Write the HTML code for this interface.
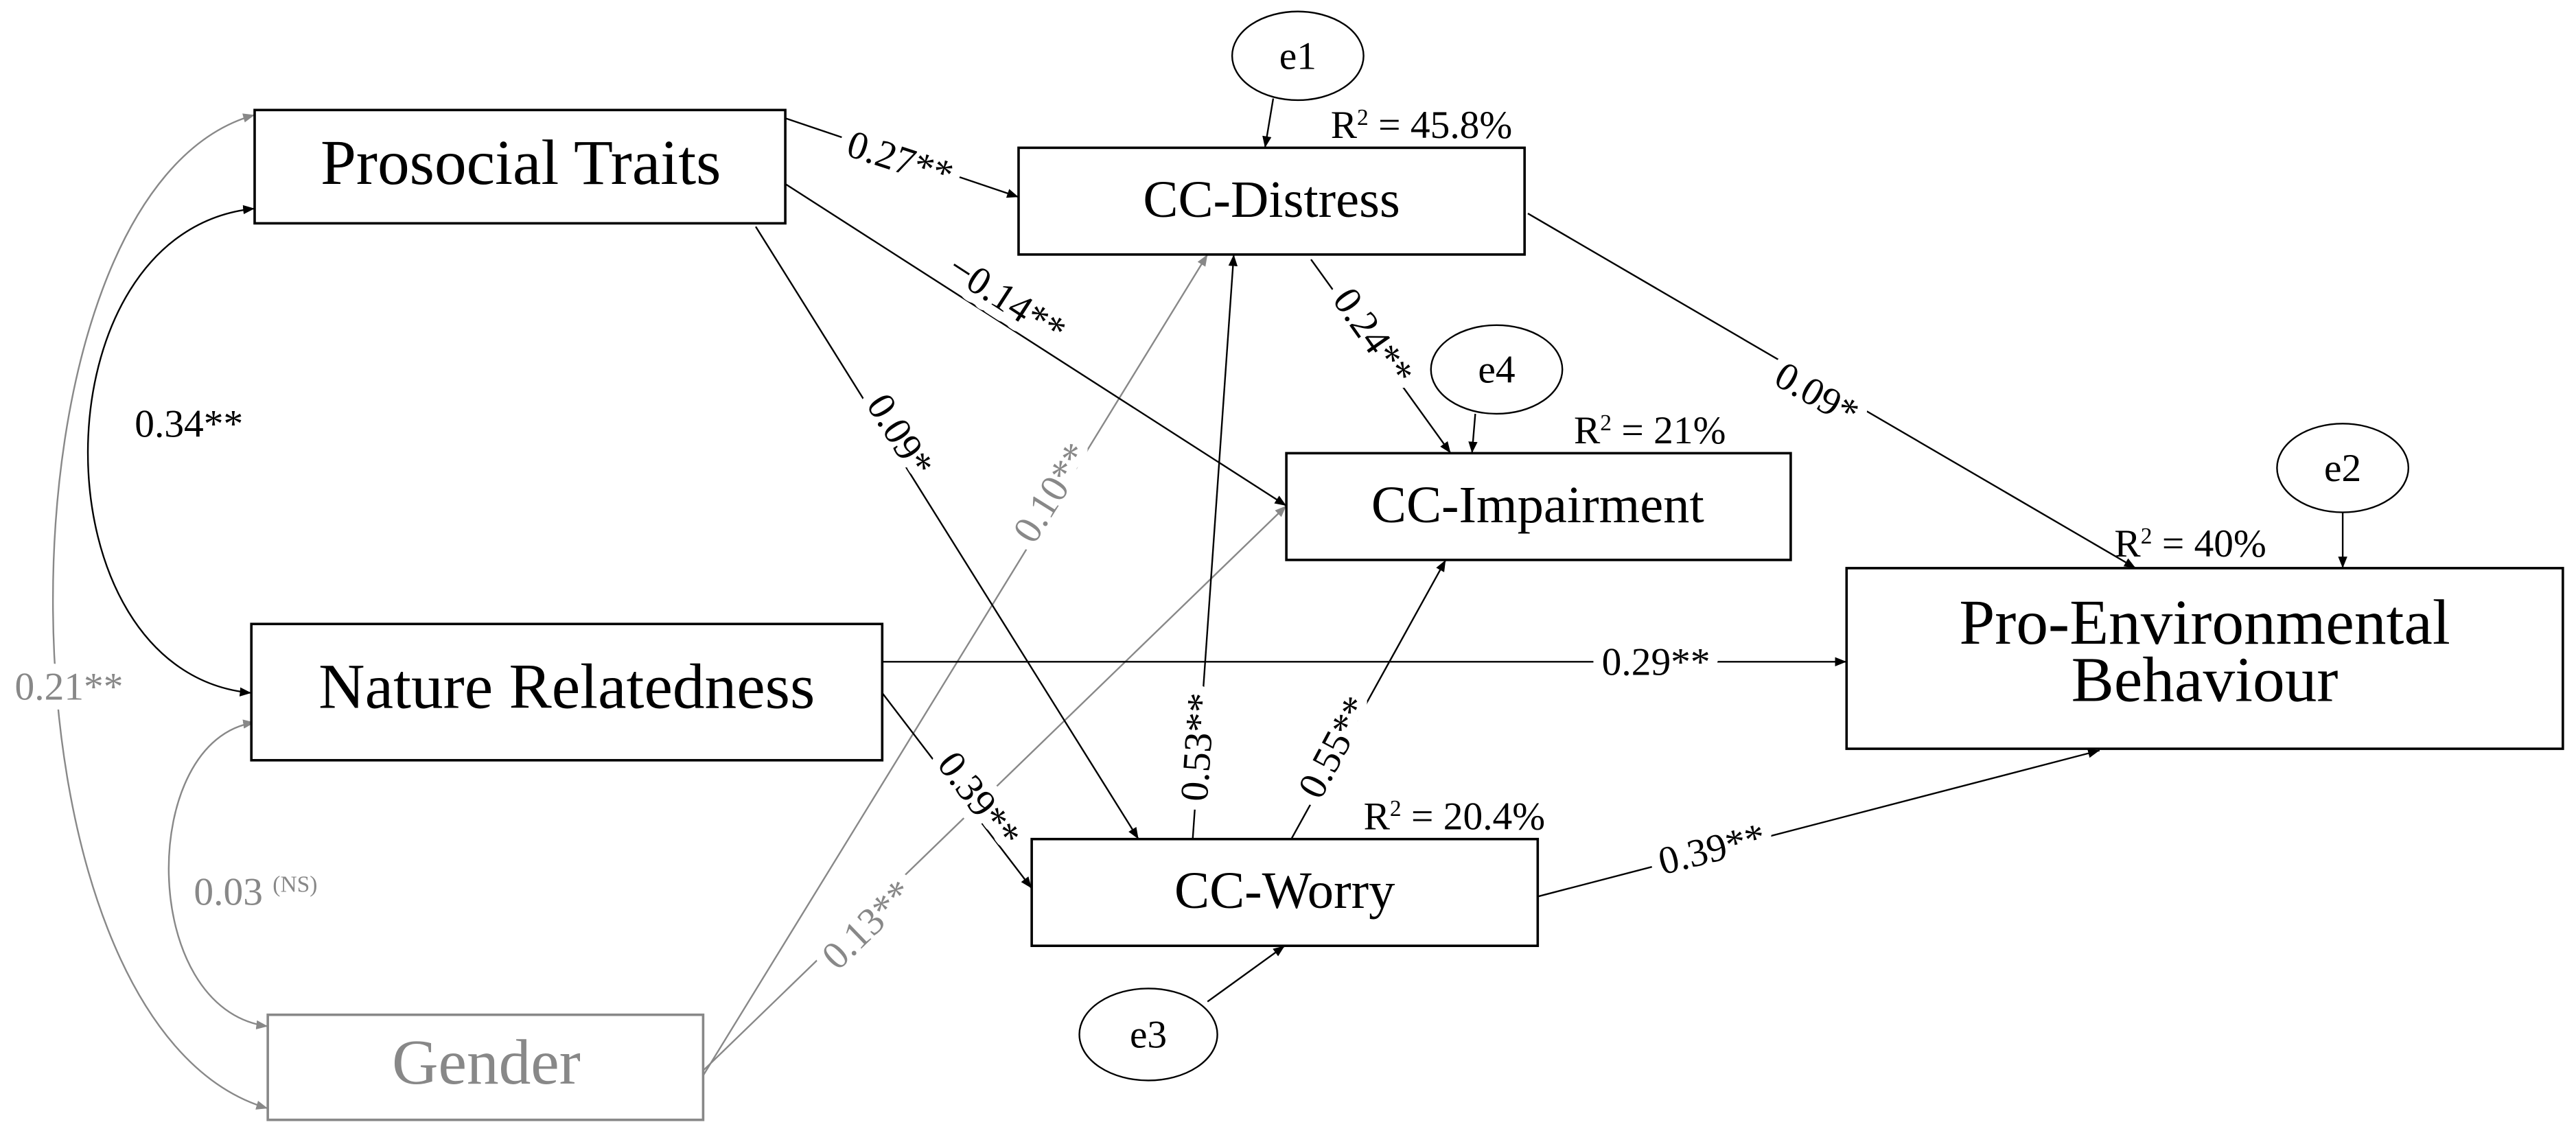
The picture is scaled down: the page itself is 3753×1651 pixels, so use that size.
<!DOCTYPE html>
<html><head><meta charset="utf-8"><style>
html,body{margin:0;padding:0;background:#fff;}
svg{display:block;}
text{font-family:"Liberation Serif",serif;}
.lb{paint-order:stroke;stroke:#fff;stroke-width:12px;stroke-linejoin:round;}
</style></head><body>
<svg width="3753" height="1651" viewBox="0 0 1568 690" preserveAspectRatio="none" xmlns="http://www.w3.org/2000/svg">
<defs>
<marker id="a" viewBox="0 0 10 10" refX="10" refY="5" markerWidth="7" markerHeight="7" orient="auto-start-reverse" markerUnits="userSpaceOnUse"><path d="M0,1 L10,5 L0,9 z" fill="#000"/></marker>
<marker id="g" viewBox="0 0 10 10" refX="10" refY="5" markerWidth="7" markerHeight="7" orient="auto-start-reverse" markerUnits="userSpaceOnUse"><path d="M0,1 L10,5 L0,9 z" fill="#888"/></marker>
</defs>
<g fill="none" stroke-width="1">
<path d="M155,70 C-10,115 -10,625 163,675" stroke="#888" marker-start="url(#g)" marker-end="url(#g)"/>
<path d="M155,127 C20,140 20,410 153,422" stroke="#000" marker-start="url(#a)" marker-end="url(#a)"/>
<path d="M155,440 C84,450 84,615 163,625" stroke="#888" marker-start="url(#g)" marker-end="url(#g)"/>
<line x1="428" y1="655" x2="735" y2="155" stroke="#888" marker-end="url(#g)"/>
<line x1="428" y1="652" x2="783" y2="308" stroke="#888" marker-end="url(#g)"/>
<line x1="478" y1="72" x2="620" y2="120" stroke="#000" marker-end="url(#a)"/>
<line x1="478" y1="112" x2="783" y2="308" stroke="#000" marker-end="url(#a)"/>
<line x1="460" y1="138" x2="693" y2="511" stroke="#000" marker-end="url(#a)"/>
<line x1="798" y1="158" x2="883" y2="276" stroke="#000" marker-end="url(#a)"/>
<line x1="930" y1="130" x2="1300" y2="346" stroke="#000" marker-end="url(#a)"/>
<line x1="537" y1="403" x2="1124" y2="403" stroke="#000" marker-end="url(#a)"/>
<line x1="537" y1="422" x2="628" y2="541" stroke="#000" marker-end="url(#a)"/>
<line x1="726" y1="511" x2="751" y2="155" stroke="#000" marker-end="url(#a)"/>
<line x1="786" y1="511" x2="880" y2="341" stroke="#000" marker-end="url(#a)"/>
<line x1="936" y1="546" x2="1278" y2="457" stroke="#000" marker-end="url(#a)"/>
<line x1="775" y1="60" x2="770" y2="90" stroke="#000" marker-end="url(#a)"/>
<line x1="898" y1="252" x2="896" y2="276" stroke="#000" marker-end="url(#a)"/>
<line x1="1426" y1="312" x2="1426" y2="346" stroke="#000" marker-end="url(#a)"/>
<line x1="735" y1="610" x2="782" y2="576" stroke="#000" marker-end="url(#a)"/>
</g>
<g fill="#fff" stroke="#000" stroke-width="1.5">
<rect x="155" y="67" width="323" height="69"/>
<rect x="620" y="90" width="308" height="65"/>
<rect x="783" y="276" width="307" height="65"/>
<rect x="1124" y="346" width="436" height="110"/>
<rect x="153" y="380" width="384" height="83"/>
<rect x="628" y="511" width="308" height="65"/>
<rect x="163" y="618" width="265" height="64" stroke="#888"/>
<ellipse cx="790" cy="34" rx="40" ry="27" stroke-width="1"/>
<ellipse cx="911" cy="225" rx="40" ry="27" stroke-width="1"/>
<ellipse cx="1426" cy="285" rx="40" ry="27" stroke-width="1"/>
<ellipse cx="699" cy="630" rx="42" ry="28" stroke-width="1"/>
</g>
<g text-anchor="middle" fill="#000">
<text x="317" y="112" font-size="39">Prosocial Traits</text>
<text x="774" y="132" font-size="32">CC-Distress</text>
<text x="936" y="318" font-size="32">CC-Impairment</text>
<text x="1342" y="392" font-size="39">Pro-Environmental</text>
<text x="1342" y="427" font-size="39">Behaviour</text>
<text x="345" y="431" font-size="39">Nature Relatedness</text>
<text x="782" y="553" font-size="32">CC-Worry</text>
<text x="296" y="660" font-size="39" fill="#888">Gender</text>
<text x="790" y="42" font-size="24">e1</text>
<text x="911" y="233" font-size="24">e4</text>
<text x="1426" y="293" font-size="24">e2</text>
<text x="699" y="638" font-size="24">e3</text>
</g>
<g font-size="24" fill="#000">
<text x="810" y="84">R<tspan font-size="14" dy="-8">2</tspan><tspan dy="8"> = 45.8%</tspan></text>
<text x="958" y="270">R<tspan font-size="14" dy="-8">2</tspan><tspan dy="8"> = 21%</tspan></text>
<text x="1287" y="339">R<tspan font-size="14" dy="-8">2</tspan><tspan dy="8"> = 40%</tspan></text>
<text x="830" y="505">R<tspan font-size="14" dy="-8">2</tspan><tspan dy="8"> = 20.4%</tspan></text>
</g>
<g font-size="24" text-anchor="middle" class="lb">
<text x="548" y="105" transform="rotate(18 548 97)">0.27**</text>
<text x="613" y="190" transform="rotate(33 613 182)">−0.14**</text>
<text x="548" y="273" transform="rotate(58 548 265)">0.09*</text>
<text x="836" y="213" transform="rotate(55 836 205)">0.24**</text>
<text x="1106" y="248" transform="rotate(30 1106 240)">0.09*</text>
<text x="1008" y="411">0.29**</text>
<text x="596" y="495" transform="rotate(53 596 487)">0.39**</text>
<text x="729" y="463" transform="rotate(-86 729 455)">0.53**</text>
<text x="812" y="463" transform="rotate(-62 812 455)">0.55**</text>
<text x="1042" y="525" transform="rotate(-14 1042 517)">0.39**</text>
<text x="640" y="308" transform="rotate(-58 640 300)" fill="#888">0.10**</text>
<text x="528" y="571" transform="rotate(-44 528 563)" fill="#888">0.13**</text>
<text x="115" y="266">0.34**</text>
<text x="42" y="426" fill="#888">0.21**</text>
</g>
<text x="118" y="551" font-size="24" fill="#888" class="lb">0.03 <tspan font-size="14" dy="-8">(NS)</tspan></text>
</svg>
</body></html>
